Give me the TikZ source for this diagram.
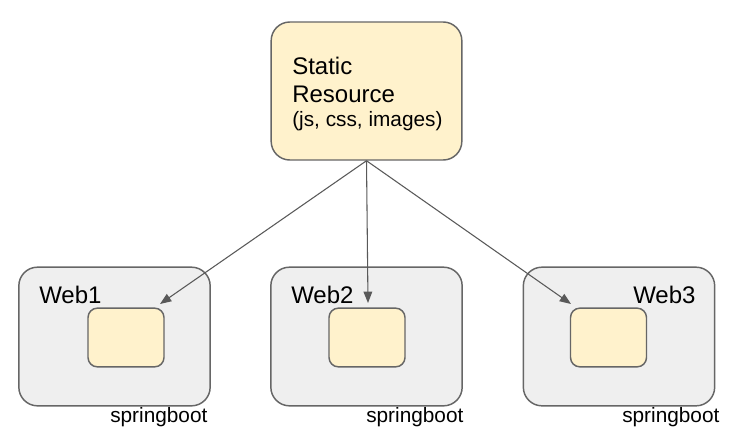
\documentclass[tikz,border=0pt]{standalone}
\usepackage{fontspec}
\setmainfont{Liberation Sans}
\usetikzlibrary{arrows.meta}
\definecolor{yelfill}{HTML}{FFF2CC}
\definecolor{grayfill}{HTML}{EFEFEF}
\definecolor{bordergray}{HTML}{666666}
\definecolor{arrowgray}{HTML}{595959}
\tikzset{
  staticbox/.style={draw=bordergray, line width=1.1pt, fill=yelfill, rounded corners=14pt, minimum width=143pt, minimum height=103.5pt, inner sep=0pt},
  webbox/.style={draw=bordergray, line width=1.1pt, fill=grayfill, rounded corners=14pt, minimum width=143.5pt, minimum height=104pt, inner sep=0pt},
  appbox/.style={draw=bordergray, line width=1.1pt, fill=yelfill, rounded corners=7pt, minimum width=57pt, minimum height=44pt, inner sep=0pt},
  bigtxt/.style={anchor=base west, inner sep=0pt, font=\fontsize{18pt}{21pt}\selectfont},
  smalltxt/.style={anchor=base west, inner sep=0pt, font=\fontsize{15.6pt}{18pt}\selectfont},
  conn/.style={draw=arrowgray, line width=0.8pt, -{Triangle[length=8.5pt,width=6.5pt]}, arrowgray},
}
\begin{document}
\begin{tikzpicture}[x=0.75pt,y=-0.75pt]
\useasboundingbox (0,0) rectangle (739,443);
\node[staticbox] (static) at (366.5,91) {};
\node[webbox] (web1) at (114.5,336.5) {};
\node[webbox] (web2) at (366.5,336.5) {};
\node[webbox] (web3) at (619,336.5) {};
\node[appbox] (app1) at (126,337.5) {};
\node[appbox] (app2) at (367,337.5) {};
\node[appbox] (app3) at (608.5,337.5) {};
\node[bigtxt] (t1) at (292,74) {Static};
\node[bigtxt] (t2) at (292,102) {Resource};
\node[smalltxt] (t3) at (292,126) {(js, css, images)};
\node[bigtxt] (w1) at (39,303) {Web1};
\node[bigtxt] (w2) at (291,303) {Web2};
\node[bigtxt] (w3) at (633,303) {Web3};
\node[smalltxt] (s1) at (110,422) {springboot};
\node[smalltxt] (s2) at (366,422) {springboot};
\node[smalltxt] (s3) at (622,422) {springboot};
\coordinate (e1) at (160,304);
\coordinate (e2) at (368,303);
\coordinate (e3) at (571,304);
\draw[conn] (static.south) -- (e1);
\draw[conn] (static.south) -- (e2);
\draw[conn] (static.south) -- (e3);
\end{tikzpicture}
\end{document}
